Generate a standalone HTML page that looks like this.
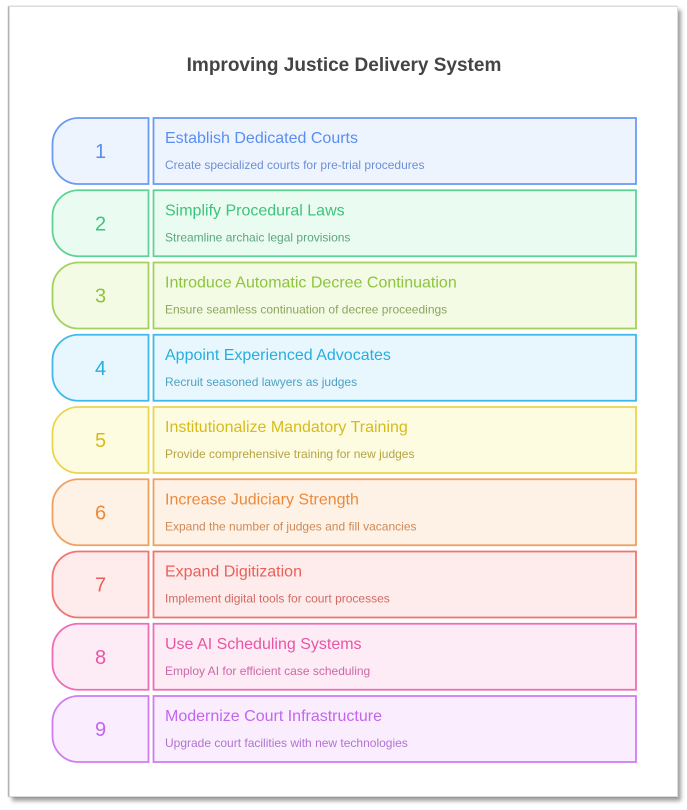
<!DOCTYPE html>
<html>
<head>
<meta charset="utf-8">
<style>
html,body{margin:0;padding:0;background:#fff;}
body{width:687px;height:810px;position:relative;overflow:hidden;font-family:"Liberation Sans",Arial,sans-serif;}
.card{position:absolute;left:9px;top:6px;width:667px;height:789px;background:#fff;border:1px solid #dcdcdc;box-shadow:-1px 0 1px rgba(0,0,0,0.35),3px 4px 4px rgba(0,0,0,0.38);}
svg{position:absolute;left:0;top:0;}
</style>
</head>
<body>
<div class="card"></div>
<svg width="687" height="810" viewBox="0 0 687 810" xmlns="http://www.w3.org/2000/svg" font-family="Liberation Sans, Arial, sans-serif">
<text x="344" y="71" text-anchor="middle" font-size="19" font-weight="bold" fill="#444444">Improving Justice Delivery System</text>

<!-- Row 1 -->
<g transform="translate(0,117)">
<path d="M148.5,1 H78 A26,26 0 0 0 52.5,27 V41 A26,26 0 0 0 78,67 H148.5 Z" fill="#eef4fe" stroke="#6a9bf2" stroke-width="1.8"/>
<rect x="153.5" y="1" width="482.5" height="66" fill="#eef4fe" stroke="#6a9bf2" stroke-width="1.8"/>
<text x="100.5" y="41" text-anchor="middle" font-size="20" fill="#5b8ef0">1</text>
<text x="165" y="26" font-size="16" fill="#5b8ef0">Establish Dedicated Courts</text>
<text x="165" y="52" font-size="12" fill="#6d8fd4">Create specialized courts for pre-trial procedures</text>
</g>

<!-- Row 2 -->
<g transform="translate(0,189.25)">
<path d="M148.5,1 H78 A26,26 0 0 0 52.5,27 V41 A26,26 0 0 0 78,67 H148.5 Z" fill="#eafbf1" stroke="#5dd494" stroke-width="1.8"/>
<rect x="153.5" y="1" width="482.5" height="66" fill="#eafbf1" stroke="#5dd494" stroke-width="1.8"/>
<text x="100.5" y="41" text-anchor="middle" font-size="20" fill="#3dc47c">2</text>
<text x="165" y="26" font-size="16" fill="#3dc47c">Simplify Procedural Laws</text>
<text x="165" y="52" font-size="12" fill="#5da57e">Streamline archaic legal provisions</text>
</g>

<!-- Row 3 -->
<g transform="translate(0,261.5)">
<path d="M148.5,1 H78 A26,26 0 0 0 52.5,27 V41 A26,26 0 0 0 78,67 H148.5 Z" fill="#f4fbe5" stroke="#a2d25c" stroke-width="1.8"/>
<rect x="153.5" y="1" width="482.5" height="66" fill="#f4fbe5" stroke="#a2d25c" stroke-width="1.8"/>
<text x="100.5" y="41" text-anchor="middle" font-size="20" fill="#8cc43e">3</text>
<text x="165" y="26" font-size="16" fill="#8cc43e">Introduce Automatic Decree Continuation</text>
<text x="165" y="52" font-size="12" fill="#8ba75c">Ensure seamless continuation of decree proceedings</text>
</g>

<!-- Row 4 -->
<g transform="translate(0,333.75)">
<path d="M148.5,1 H78 A26,26 0 0 0 52.5,27 V41 A26,26 0 0 0 78,67 H148.5 Z" fill="#e8f7fd" stroke="#40b9ea" stroke-width="1.8"/>
<rect x="153.5" y="1" width="482.5" height="66" fill="#e8f7fd" stroke="#40b9ea" stroke-width="1.8"/>
<text x="100.5" y="41" text-anchor="middle" font-size="20" fill="#27aee0">4</text>
<text x="165" y="26" font-size="16" fill="#27aee0">Appoint Experienced Advocates</text>
<text x="165" y="52" font-size="12" fill="#4ea2c3">Recruit seasoned lawyers as judges</text>
</g>

<!-- Row 5 -->
<g transform="translate(0,406)">
<path d="M148.5,1 H78 A26,26 0 0 0 52.5,27 V41 A26,26 0 0 0 78,67 H148.5 Z" fill="#fdfbe0" stroke="#ead64c" stroke-width="1.8"/>
<rect x="153.5" y="1" width="482.5" height="66" fill="#fdfbe0" stroke="#ead64c" stroke-width="1.8"/>
<text x="100.5" y="41" text-anchor="middle" font-size="20" fill="#d6bc1b">5</text>
<text x="165" y="26" font-size="16" fill="#d6bc1b">Institutionalize Mandatory Training</text>
<text x="165" y="52" font-size="12" fill="#b5a444">Provide comprehensive training for new judges</text>
</g>

<!-- Row 6 -->
<g transform="translate(0,478.25)">
<path d="M148.5,1 H78 A26,26 0 0 0 52.5,27 V41 A26,26 0 0 0 78,67 H148.5 Z" fill="#fef1e6" stroke="#f0a05f" stroke-width="1.8"/>
<rect x="153.5" y="1" width="482.5" height="66" fill="#fef1e6" stroke="#f0a05f" stroke-width="1.8"/>
<text x="100.5" y="41" text-anchor="middle" font-size="20" fill="#ec8a3a">6</text>
<text x="165" y="26" font-size="16" fill="#ec8a3a">Increase Judiciary Strength</text>
<text x="165" y="52" font-size="12" fill="#cf8a56">Expand the number of judges and fill vacancies</text>
</g>

<!-- Row 7 -->
<g transform="translate(0,550.5)">
<path d="M148.5,1 H78 A26,26 0 0 0 52.5,27 V41 A26,26 0 0 0 78,67 H148.5 Z" fill="#fdeceb" stroke="#f17470" stroke-width="1.8"/>
<rect x="153.5" y="1" width="482.5" height="66" fill="#fdeceb" stroke="#f17470" stroke-width="1.8"/>
<text x="100.5" y="41" text-anchor="middle" font-size="20" fill="#ec5e59">7</text>
<text x="165" y="26" font-size="16" fill="#ec5e59">Expand Digitization</text>
<text x="165" y="52" font-size="12" fill="#d26a66">Implement digital tools for court processes</text>
</g>

<!-- Row 8 -->
<g transform="translate(0,622.75)">
<path d="M148.5,1 H78 A26,26 0 0 0 52.5,27 V41 A26,26 0 0 0 78,67 H148.5 Z" fill="#fdebf6" stroke="#ee6db6" stroke-width="1.8"/>
<rect x="153.5" y="1" width="482.5" height="66" fill="#fdebf6" stroke="#ee6db6" stroke-width="1.8"/>
<text x="100.5" y="41" text-anchor="middle" font-size="20" fill="#e855a4">8</text>
<text x="165" y="26" font-size="16" fill="#e855a4">Use AI Scheduling Systems</text>
<text x="165" y="52" font-size="12" fill="#cd68a4">Employ AI for efficient case scheduling</text>
</g>

<!-- Row 9 -->
<g transform="translate(0,695)">
<path d="M148.5,1 H78 A26,26 0 0 0 52.5,27 V41 A26,26 0 0 0 78,67 H148.5 Z" fill="#f9edfe" stroke="#cf7df0" stroke-width="1.8"/>
<rect x="153.5" y="1" width="482.5" height="66" fill="#f9edfe" stroke="#cf7df0" stroke-width="1.8"/>
<text x="100.5" y="41" text-anchor="middle" font-size="20" fill="#c465ec">9</text>
<text x="165" y="26" font-size="16" fill="#c465ec">Modernize Court Infrastructure</text>
<text x="165" y="52" font-size="12" fill="#b174cf">Upgrade court facilities with new technologies</text>
</g>
</svg>
</body>
</html>
